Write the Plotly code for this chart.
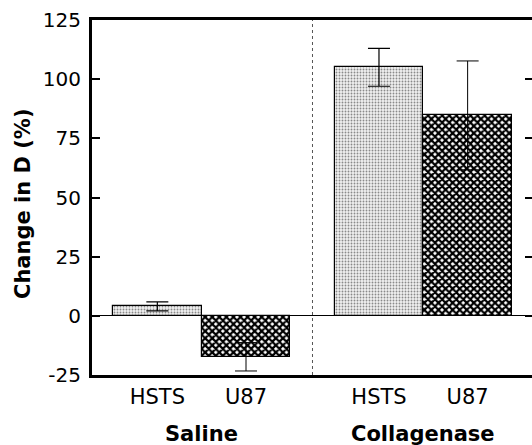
import plotly.graph_objects as go

groups = ["Saline", "Collagenase"]
group_centers = [0.5, 3.0]
cell_lines = ["HSTS", "U87"]
hsts_vals = [4.0, 105.0]
hsts_err = [1.9, 8.0]
u87_vals = [-17.3, 84.7]
u87_err = [6.0, 23.0]
y_ticks = [-25, 0, 25, 50, 75, 100, 125]
y_tick_text = ["-25", "0", "25", "50", "75", "100", "125"]

FONT = "DejaVu Sans, Arial, Helvetica, sans-serif"

hsts_x = [c - 0.5 for c in group_centers]
u87_x = [c + 0.5 for c in group_centers]

fig = go.Figure()
fig.add_trace(go.Bar(
    x=hsts_x, y=hsts_vals, width=1, name="HSTS",
    marker=dict(color="#e2e2e2", line=dict(color="black", width=1.2),
                pattern=dict(shape=".", fgcolor="#8a8a8a", bgcolor="#f0f0f0",
                             size=3, solidity=0.3, fillmode="replace")),
    error_y=dict(type="data", array=hsts_err, color="black", thickness=1.2, width=11),
))
fig.add_trace(go.Bar(
    x=u87_x, y=u87_vals, width=1, name="U87",
    marker=dict(color="#333333", line=dict(color="black", width=1.2),
                pattern=dict(shape="x", fgcolor="black", bgcolor="white",
                             size=5, solidity=0.7, fillmode="replace")),
    error_y=dict(type="data", array=u87_err, color="black", thickness=1, width=11),
))
# invisible trace to host right-side mirrored ticks
fig.add_trace(go.Scatter(x=[0], y=[0], yaxis="y2", mode="markers",
                         marker=dict(opacity=0), showlegend=False, hoverinfo="skip"))

tick_x = hsts_x + u87_x
tick_text = [cell_lines[0]] * len(hsts_x) + [cell_lines[1]] * len(u87_x)

fig.update_layout(
    width=532, height=445,
    margin=dict(l=92, r=0, t=20, b=70),
    paper_bgcolor="white", plot_bgcolor="white",
    showlegend=False, barmode="overlay", bargap=0,
    font=dict(family=FONT, color="black"),
    xaxis=dict(range=[-0.737, 4.226], tickvals=tick_x, ticktext=tick_text,
               ticks="", showgrid=False, zeroline=False,
               showline=True, linecolor="black", linewidth=2.5, mirror=True,
               tickfont=dict(size=21, family=FONT), ticklabelstandoff=1),
    yaxis=dict(range=[-25, 125], tickvals=y_ticks, ticktext=y_tick_text,
               ticks="inside", ticklen=8,
               tickwidth=1.5, tickcolor="black", showgrid=False,
               zeroline=True, zerolinecolor="black", zerolinewidth=1,
               showline=True, linecolor="black", linewidth=3,
               tickfont=dict(size=20, family=FONT), ticklabelstandoff=4),
    yaxis2=dict(range=[-25, 125], overlaying="y", side="right",
                tickvals=y_ticks[1:-1], ticks="inside", ticklen=7, tickwidth=1.5,
                tickcolor="black", showticklabels=False, showgrid=False,
                zeroline=False, showline=False),
)

fig.add_shape(type="line", xref="x", yref="paper",
              x0=(u87_x[0] + hsts_x[1]) / 2, x1=(u87_x[0] + hsts_x[1]) / 2,
              y0=0, y1=1, line=dict(color="#555555", width=1, dash="dot"))

for g, c in zip(groups, group_centers):
    fig.add_annotation(text="<b>" + g + "</b>", x=c, xref="x", y=0, yref="paper",
                       yanchor="middle", yshift=-59, showarrow=False,
                       font=dict(size=21, family=FONT, color="black"))

fig.add_annotation(text="<b>Change in D (%)</b>", textangle=-90,
                   x=0, xref="paper", xanchor="center", xshift=-69,
                   y=(375 - 204) / 355, yref="paper", yanchor="middle",
                   showarrow=False, font=dict(size=21, family=FONT, color="black"))

fig.write_html("out.html")
